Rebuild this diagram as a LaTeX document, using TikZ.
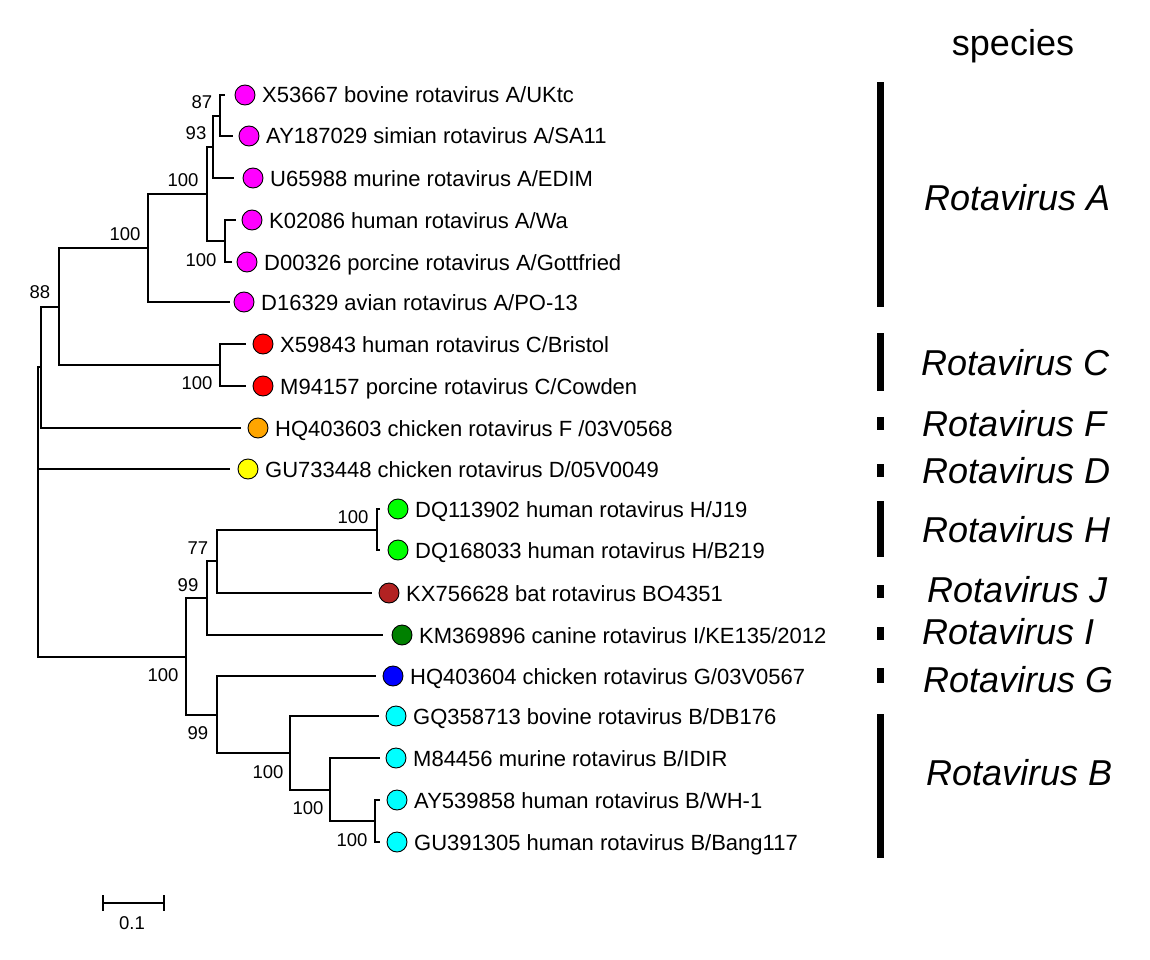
\documentclass[tikz,border=0pt]{standalone}
\usepackage{fontspec}
\setmainfont{Liberation Sans}
\definecolor{cMag}{HTML}{FF00FF}
\definecolor{cRed}{HTML}{FF0000}
\definecolor{cOra}{HTML}{FFA500}
\definecolor{cYel}{HTML}{FFFF00}
\definecolor{cLim}{HTML}{00FF00}
\definecolor{cBrn}{HTML}{B22222}
\definecolor{cDgr}{HTML}{008000}
\definecolor{cBlu}{HTML}{0000FF}
\definecolor{cCya}{HTML}{00FFFF}
\newcommand\myleaf[6]{%
  \coordinate (e#1) at (#3,#2);
  \node[leafdot,fill=#5] (c#1) at (#4,#2) {};
  \node[lab] (t#1) at (#4+17,#2+8) {#6};
}
\begin{document}
\begin{tikzpicture}[x=1pt,y=-1pt,
  br/.style={line width=1.6pt},
  leafdot/.style={circle,draw=black,line width=0.9pt,minimum size=20pt,inner sep=0pt},
  lab/.style={anchor=base west,inner sep=0pt,font=\fontsize{22}{26}\selectfont},
  boot/.style={inner sep=0pt,font=\fontsize{18.5}{21}\selectfont},
  sp/.style={anchor=west,inner sep=0pt,font=\fontsize{36}{40}\selectfont\itshape},
  spbar/.style={fill=black,draw=none}]
\useasboundingbox (0,0) rectangle (1150,960);

% leaves
\myleaf{1}{95}{225}{245}{cMag}{X53667 bovine rotavirus A/UKtc}
\myleaf{2}{136}{233}{249}{cMag}{AY187029 simian rotavirus A/SA11}
\myleaf{3}{178}{234}{253}{cMag}{U65988 murine rotavirus A/EDIM}
\myleaf{4}{220}{236}{252}{cMag}{K02086 human rotavirus A/Wa}
\myleaf{5}{262}{232}{247}{cMag}{D00326 porcine rotavirus A/Gottfried}
\myleaf{6}{302}{230}{244}{cMag}{D16329 avian rotavirus A/PO-13}
\myleaf{7}{344}{246}{263}{cRed}{X59843 human rotavirus C/Bristol}
\myleaf{8}{386}{246}{263}{cRed}{M94157 porcine rotavirus C/Cowden}
\myleaf{9}{428}{241}{258}{cOra}{HQ403603 chicken rotavirus F /03V0568}
\myleaf{10}{469}{230}{248}{cYel}{GU733448 chicken rotavirus D/05V0049}
\myleaf{11}{509}{380}{398}{cLim}{DQ113902 human rotavirus H/J19}
\myleaf{12}{550}{380}{398}{cLim}{DQ168033 human rotavirus H/B219}
\myleaf{13}{593}{372}{389}{cBrn}{KX756628 bat rotavirus BO4351}
\myleaf{14}{635}{383}{402}{cDgr}{KM369896 canine rotavirus I/KE135/2012}
\myleaf{15}{676}{376}{393}{cBlu}{HQ403604 chicken rotavirus G/03V0567}
\myleaf{16}{716}{379}{396}{cCya}{GQ358713 bovine rotavirus B/DB176}
\myleaf{17}{758}{380}{396}{cCya}{M84456 murine rotavirus B/IDIR}
\myleaf{18}{800}{380}{397}{cCya}{AY539858 human rotavirus B/WH-1}
\myleaf{19}{842}{380}{397}{cCya}{GU391305 human rotavirus B/Bang117}

% internal nodes
\coordinate (n87) at (220,116);
\coordinate (n93) at (213,147);
\coordinate (nA1) at (207,194);
\coordinate (nKD) at (225,241);
\coordinate (nA) at (148,248);
\coordinate (nC) at (220,365);
\coordinate (nAC) at (59,307);
\coordinate (nACF) at (41,367);
\coordinate (root) at (38,512);
\coordinate (nH) at (377,530);
\coordinate (n77) at (217,561);
\coordinate (n99) at (207,598);
\coordinate (nHB) at (186,657);
\coordinate (nGB) at (217,715);
\coordinate (nB) at (290,753);
\coordinate (nB2) at (330,790);
\coordinate (nB3) at (375,821);

% branches
\draw[br] (n87) |- (e1); \draw[br] (n87) |- (e2);
\draw[br] (n93) |- (n87); \draw[br] (n93) |- (e3);
\draw[br] (nA1) |- (n93); \draw[br] (nA1) |- (nKD);
\draw[br] (nKD) |- (e4); \draw[br] (nKD) |- (e5);
\draw[br] (nA) |- (nA1); \draw[br] (nA) |- (e6);
\draw[br] (nC) |- (e7); \draw[br] (nC) |- (e8);
\draw[br] (nAC) |- (nA); \draw[br] (nAC) |- (nC);
\draw[br] (nACF) |- (nAC); \draw[br] (nACF) |- (e9);
\draw[br] (root) |- (nACF); \draw[br] (root) |- (e10); \draw[br] (root) |- (nHB);
\draw[br] (nH) |- (e11); \draw[br] (nH) |- (e12);
\draw[br] (n77) |- (nH); \draw[br] (n77) |- (e13);
\draw[br] (n99) |- (n77); \draw[br] (n99) |- (e14);
\draw[br] (nHB) |- (n99); \draw[br] (nHB) |- (nGB);
\draw[br] (nGB) |- (e15); \draw[br] (nGB) |- (nB);
\draw[br] (nB) |- (e16); \draw[br] (nB) |- (nB2);
\draw[br] (nB2) |- (e17); \draw[br] (nB2) |- (nB3);
\draw[br] (nB3) |- (e18); \draw[br] (nB3) |- (e19);

% bootstrap values
\node[boot] (b87) at (202,102) {87};
\node[boot] (b93) at (196,133) {93};
\node[boot] (bA1) at (183,180) {100};
\node[boot] (bKD) at (201,260) {100};
\node[boot] (bA) at (125,234) {100};
\node[boot] (b88) at (40,292) {88};
\node[boot] (bC) at (197,383) {100};
\node[boot] (bH) at (353,517) {100};
\node[boot] (b77) at (198,548) {77};
\node[boot] (b99) at (188,585) {99};
\node[boot] (bHB) at (163,675) {100};
\node[boot] (bGB) at (198,733) {99};
\node[boot] (bB) at (268,772) {100};
\node[boot] (bB2) at (308,808) {100};
\node[boot] (bB3) at (352,840) {100};

% scale bar
\coordinate (s1) at (103,903);
\coordinate (s2) at (164,903);
\draw[line width=1.4pt] (s1) -- (s2);
\draw[line width=1.4pt] ([yshift=8pt]s1) -- ([yshift=-8pt]s1);
\draw[line width=1.4pt] ([yshift=8pt]s2) -- ([yshift=-8pt]s2);
\node[boot] (sc) at (132,923) {0.1};

% species column
\node[anchor=base,inner sep=0pt,font=\fontsize{36}{40}\selectfont] (spt) at (1013,56) {species};
\fill[spbar] (877,82) rectangle (884,307);
\fill[spbar] (877,333) rectangle (884,391);
\fill[spbar] (877,417) rectangle (884,430);
\fill[spbar] (877,464) rectangle (884,477);
\fill[spbar] (877,501) rectangle (884,557);
\fill[spbar] (877,585) rectangle (884,598);
\fill[spbar] (877,627) rectangle (884,640);
\fill[spbar] (877,668) rectangle (884,683);
\fill[spbar] (877,714) rectangle (884,858);
\node[sp] (sA) at (924,198) {Rotavirus A};
\node[sp] (sC) at (921,363) {Rotavirus C};
\node[sp] (sF) at (922,424) {Rotavirus F};
\node[sp] (sD) at (922,471) {Rotavirus D};
\node[sp] (sH) at (922,530) {Rotavirus H};
\node[sp] (sJ) at (927,590) {Rotavirus J};
\node[sp] (sI) at (922,632) {Rotavirus I};
\node[sp] (sG) at (923,680) {Rotavirus G};
\node[sp] (sB) at (926,773) {Rotavirus B};
\end{tikzpicture}
\end{document}
